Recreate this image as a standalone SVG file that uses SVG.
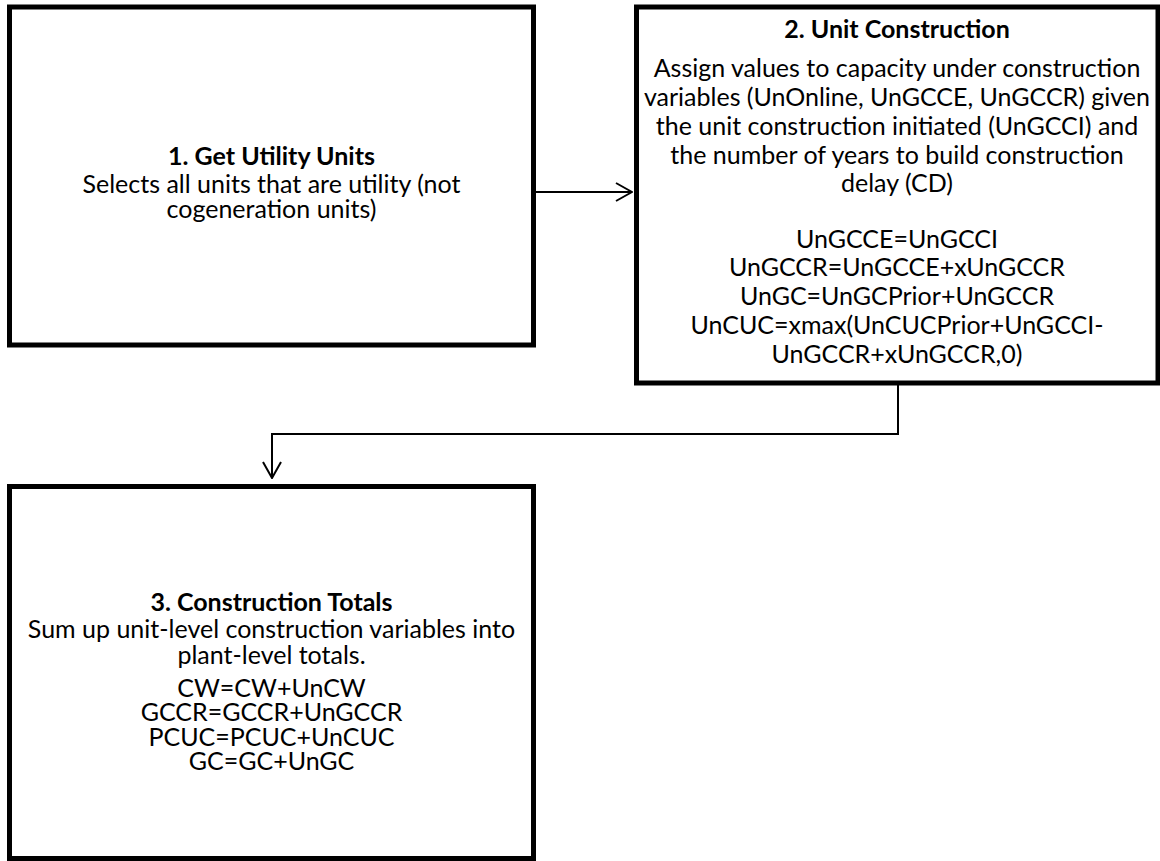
<svg xmlns="http://www.w3.org/2000/svg" width="1160" height="861" viewBox="0 0 1160 861">
  <style>
    .box { fill: #ffffff; stroke: #000000; stroke-width: 5; }
    .t { font-family: Lato, "Liberation Sans", Arial, sans-serif; font-size: 25px; fill: #000000; text-anchor: middle; }
    .h { font-weight: bold; }
    .conn { fill: none; stroke: #000000; stroke-width: 2; }
  </style>
  <defs>
    <marker id="openArrow" viewBox="0 0 18 20" refX="17" refY="10" markerWidth="18" markerHeight="20" markerUnits="userSpaceOnUse" orient="auto">
      <path d="M1,1 L17,10 L1,19" fill="none" stroke="#000000" stroke-width="2"/>
    </marker>
  </defs>
  <rect width="1160" height="861" fill="#ffffff"/>

  <g id="node-get-utility-units">
    <rect class="box" x="9.5" y="7" width="524" height="338"/>
    <text class="t h" x="271.5" y="165">1. Get Utility Units</text>
    <text class="t" x="271.5" y="193">Selects all units that are utility (not</text>
    <text class="t" x="271.5" y="218">cogeneration units)</text>
  </g>

  <g id="node-unit-construction">
    <rect class="box" x="636.5" y="7" width="521.5" height="376"/>
    <text class="t h" x="897" y="38">2. Unit Construction</text>
    <text class="t" x="897" y="77">Assign values to capacity under construction</text>
    <text class="t" x="897" y="106">variables (UnOnline, UnGCCE, UnGCCR) given</text>
    <text class="t" x="897" y="135">the unit construction initiated (UnGCCI) and</text>
    <text class="t" x="897" y="164">the number of years to build construction</text>
    <text class="t" x="897" y="192">delay (CD)</text>
    <text class="t" x="897" y="248">UnGCCE=UnGCCI</text>
    <text class="t" x="897" y="276">UnGCCR=UnGCCE+xUnGCCR</text>
    <text class="t" x="897" y="305">UnGC=UnGCPrior+UnGCCR</text>
    <text class="t" x="897" y="334">UnCUC=xmax(UnCUCPrior+UnGCCI-</text>
    <text class="t" x="897" y="363">UnGCCR+xUnGCCR,0)</text>
  </g>

  <g id="node-construction-totals">
    <rect class="box" x="9.5" y="486.5" width="524" height="372"/>
    <text class="t h" x="271.5" y="611">3. Construction Totals</text>
    <text class="t" x="271.5" y="638">Sum up unit-level construction variables into</text>
    <text class="t" x="271.5" y="664">plant-level totals.</text>
    <text class="t" x="271.5" y="697">CW=CW+UnCW</text>
    <text class="t" x="271.5" y="721">GCCR=GCCR+UnGCCR</text>
    <text class="t" x="271.5" y="746">PCUC=PCUC+UnCUC</text>
    <text class="t" x="271.5" y="770">GC=GC+UnGC</text>
  </g>

  <g id="connectors">
    <path class="conn" d="M536,192 H632" marker-end="url(#openArrow)"/>
    <path class="conn" d="M898,385 V434 H272 V478" marker-end="url(#openArrow)"/>
  </g>
</svg>
